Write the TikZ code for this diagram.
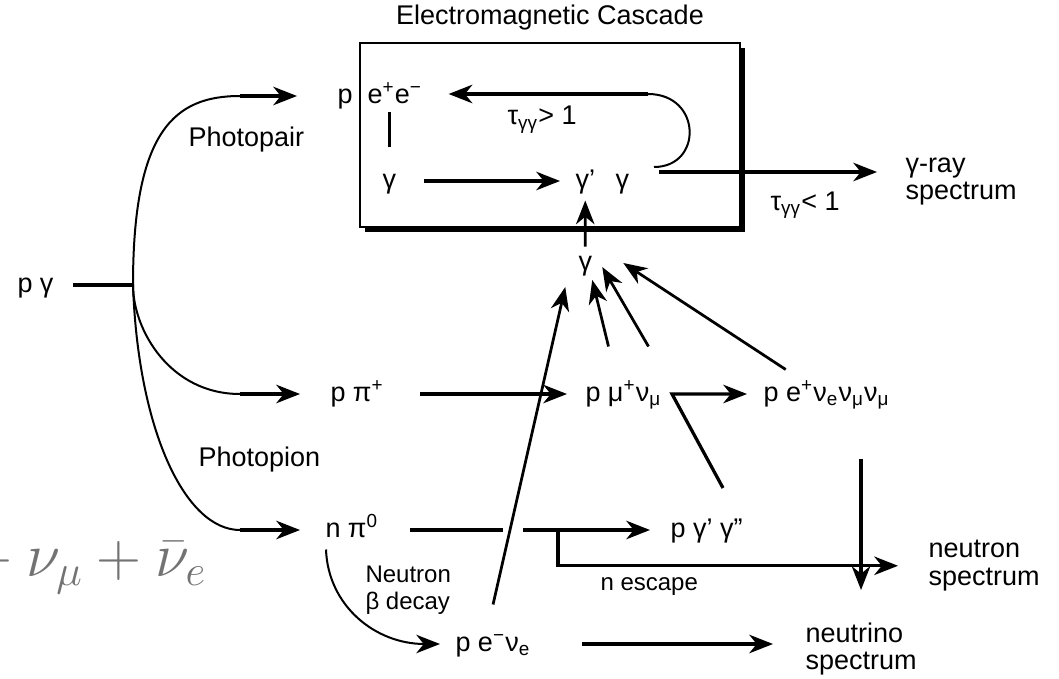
\documentclass[tikz,border=0pt]{standalone}
\usepackage[no-math]{fontspec}
\setmainfont{Liberation Sans}
\usepackage{tikz}
\usetikzlibrary{arrows.meta,positioning,shadows}

\begin{document}
\begin{tikzpicture}[x=0.4pt,y=-0.4pt,>={Stealth[length=9.5pt,width=7.4pt,inset=3pt]},
  every node/.style={inner sep=0pt,font=\fontsize{10.8}{11}\selectfont},
  chem/.style={anchor=west,text height=8pt,text depth=2pt},
  lbl/.style={anchor=base west},
  smalltext/.style={font=\fontsize{9.6}{10.8}\selectfont},
  arr/.style={->,line width=1.3pt},
  diag/.style={->,line width=1.1pt},
  thinarc/.style={line width=0.8pt},
  cascadebox/.style={draw,line width=1pt,fill=white,minimum width=152pt,minimum height=73.6pt,
    drop shadow={shadow xshift=2pt,shadow yshift=-2pt,fill=black,opacity=1}}]
  \path[use as bounding box,fill=white] (0,0) rectangle (1059,679);

  \node[cascadebox] (cascade) at (550,135) {};
  \node[above=4.5pt of cascade] (title) {Electromagnetic Cascade};

  \node[chem] (pA) at (337,96) {p};
  \node[chem] (ee) at (367,96) {e\textsuperscript{+}e\textsuperscript{−}};
  \node[chem] (gA) at (382,181) {γ};
  \node[chem] (gp) at (575,181) {γ’};
  \node[chem] (gB) at (615,181) {γ};
  \node[chem] (g) at (578,263) {γ};
  \node[chem] (pg) at (17,285) {p γ};
  \node[chem] (ppi) at (330,394) {p π\textsuperscript{+}};
  \node[chem] (pmu) at (585,394) {p μ\textsuperscript{+}ν\textsubscript{μ}};
  \node[chem] (pe) at (763,394) {p e\textsuperscript{+}ν\textsubscript{e}ν\textsubscript{μ}ν\textsubscript{μ}};
  \node[chem] (npi) at (325,530) {n π\textsuperscript{0}};
  \node[chem] (pgg) at (670,530) {p γ’ γ”};
  \node[chem] (pen) at (455,644) {p e\textsuperscript{−}ν\textsubscript{e}};

  \node[anchor=north west,align=left] (gspec) at (905,157) {γ-ray\\spectrum};
  \node[anchor=north west,align=left] (nspec) at (928,540) {neutron\\spectrum};
  \node[anchor=north west,align=left] (nuspec) at (805,622) {neutrino\\spectrum};

  \node[lbl] (photopair) at (188,146) {Photopair};
  \node[lbl] (photopion) at (198,466) {Photopion};
  \node[smalltext,anchor=north west,align=left] (ndecay) at (365,565) {Neutron\\β decay};
  \node[smalltext,lbl] (nesc) at (600,590) {n escape};
  \node[lbl] (tauA) at (507,125) {τ\textsubscript{γγ}> 1};
  \node[lbl] (tauB) at (770,210) {τ\textsubscript{γγ}< 1};
  \node[anchor=base east,text=black!55,font=\fontsize{27}{27}\selectfont] (frag) at (207,576) {${}+\nu_\mu+\bar{\nu}_e$};

  \coordinate (J) at (133,285);
  \coordinate (cA) at (240,96);
  \coordinate (cB) at (240,394);
  \coordinate (cC) at (240,530);
  \draw[line width=1.3pt,shorten <=7.6pt] (pg.east) -- (J);
  \draw[thinarc] (J) .. controls (133,130) and (175,96) .. (cA);
  \draw[arr,shorten >=16pt] (cA) -- (pA.west);
  \draw[thinarc] (J) .. controls (133,330) and (170,394) .. (cB);
  \draw[arr,shorten >=12pt] (cB) -- (ppi.west);
  \draw[thinarc] (J) .. controls (138,430) and (185,530) .. (cC);
  \draw[arr,shorten >=10pt] (cC) -- (npi.west);

  \draw[line width=1.3pt,shorten <=8.2pt,shorten >=1.4pt] (gA.north) -- (gA.north |- ee.south);
  \draw[arr,shorten <=11pt,shorten >=6pt] (gA) -- (gp);
  \coordinate (loopT) at (648,94);
  \draw[thinarc] ([shift={(9.8pt,5.6pt)}]gB.east) .. controls +(49,0) and +(54,0) .. (loopT);
  \draw[arr,shorten >=10.4pt] (loopT) -- (loopT -| ee.east);
  \coordinate (escS) at ([shift={(11.8pt,3.6pt)}]gB.east);
  \draw[arr,shorten >=11.2pt] (escS) -- (escS -| gspec.west);
  \draw[diag] ([yshift=1.4pt]g.north) -- ([yshift=-2.6pt]gp.south);

  \draw[arr,shorten <=14.4pt,shorten >=7.2pt] (ppi) -- (pmu);
  \coordinate (kink) at (723,488);
  \draw[arr,shorten >=6.4pt] (kink) -- ([xshift=4pt]pmu.east) -- (pe.west);
  \coordinate (brA) at (503,530);
  \coordinate (brB) at (523,530);
  \draw[line width=1.3pt,shorten <=12.4pt] (npi.east) -- (brA);
  \draw[arr,shorten >=8pt] (brB) -- (pgg.west);
  \coordinate (escN) at (558,530);
  \draw[arr,shorten >=12pt] (escN) |- (nspec.west);
  \draw[arr,shorten <=20.6pt,shorten >=12.8pt] (pe.south -| nuspec.north) -- (nuspec.north);
  \draw[arr,shorten <=20.4pt,shorten >=12.8pt] (pen.east) -- (pen.east -| nuspec.west);
  \draw[thinarc,->] ([shift={(0.4pt,-2.6pt)}]npi.south west) .. controls +(2,56) and +(-65,0) .. ([xshift=-6pt]pen.west);

  \draw[diag] ([yshift=10.6pt]pen.north) -- ([shift={(-8pt,-9.6pt)}]g.center);
  \draw[diag] ([shift={(-6pt,13.8pt)}]pmu.north) -- ([shift={(2.8pt,-6.8pt)}]g.center);
  \draw[diag] ([shift={(10pt,13.8pt)}]pmu.north) -- ([shift={(6.8pt,-1.6pt)}]g.center);
  \draw[diag] ([shift={(-16.4pt,4.6pt)}]pe.north) -- ([shift={(15.2pt,0pt)}]g.center);
\end{tikzpicture}
\end{document}
